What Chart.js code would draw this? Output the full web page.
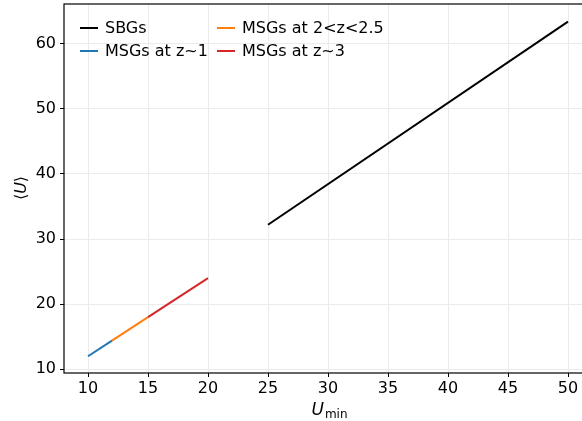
<!DOCTYPE html>
<html><head><meta charset="utf-8">
<script src="https://cdn.jsdelivr.net/npm/chart.js@4"></script>
<style>html,body{margin:0;padding:0;overflow:hidden;background:#fff;width:582px;height:421px}#wrap{width:600px;height:421px}</style>
</head><body><div id="wrap"><canvas id="c" width="600" height="421"></canvas></div>
<script>
const xTicks = [10, 15, 20, 25, 30, 35, 40, 45, 50];
const yTicks = [10, 20, 30, 40, 50, 60];
const seriesNames = ["SBGs", "MSGs at z~1", "MSGs at 2<z<2.5", "MSGs at z~3"];
const sbgUmin = [25, 50];
const sbgMeanU = [32.2, 63.4];
const z1Umin = [10, 12];
const z1MeanU = [12.0, 14.4];
const z2Umin = [12, 15];
const z2MeanU = [14.4, 18.0];
const z3Umin = [15, 20];
const z3MeanU = [18.0, 24.0];
const colors = ["#000000", "#1f77b4", "#ff7f0e", "#d62728"];

const pts = (xs, ys) => xs.map((x, i) => ({x: x, y: ys[i]}));
const series = [pts(sbgUmin, sbgMeanU), pts(z1Umin, z1MeanU), pts(z2Umin, z2MeanU), pts(z3Umin, z3MeanU)];
const FONT = "DejaVu Sans";

const framePlugin = {
  id: 'frame',
  afterDraw(chart) {
    const ctx = chart.ctx, a = chart.chartArea;
    ctx.save();
    ctx.strokeStyle = '#000'; ctx.lineWidth = 1.2;
    ctx.strokeRect(a.left, a.top, a.right - a.left, a.bottom - a.top);
    // legend (two columns)
    ctx.font = '16px "' + FONT + '"';
    ctx.textBaseline = 'middle';
    const pos = [[80, 28], [80, 51], [217, 28], [217, 51]];
    chart.data.datasets.forEach((ds, i) => {
      const [lx, ly] = pos[i];
      ctx.strokeStyle = ds.borderColor; ctx.lineWidth = 2;
      ctx.beginPath(); ctx.moveTo(lx, ly); ctx.lineTo(lx + 18, ly); ctx.stroke();
      ctx.fillStyle = '#000';
      ctx.fillText(ds.label, lx + 25, ly + 1);
    });
    // x label
    ctx.textBaseline = 'alphabetic';
    ctx.font = 'italic 17px "' + FONT + '"';
    const uW = ctx.measureText('U').width;
    ctx.font = '12px "' + FONT + '"';
    const mW = ctx.measureText('min').width;
    let xs = 329 - (uW + mW) / 2;
    ctx.font = 'italic 17px "' + FONT + '"';
    ctx.fillText('U', xs, 415);
    ctx.font = '12px "' + FONT + '"';
    ctx.fillText('min', xs + uW + 1, 418);
    // y label
    ctx.translate(26, 188);
    ctx.rotate(-Math.PI / 2);
    ctx.font = '16px "' + FONT + '"';
    const lw = ctx.measureText('⟨').width;
    ctx.font = 'italic 16px "' + FONT + '"';
    const uw2 = ctx.measureText('U').width;
    const tot = lw * 2 + uw2;
    let px = -tot / 2;
    ctx.font = '16px "' + FONT + '"';
    ctx.fillText('⟨', px, 0);
    ctx.font = 'italic 16px "' + FONT + '"';
    ctx.fillText('U', px + lw, 0);
    ctx.font = '16px "' + FONT + '"';
    ctx.fillText('⟩', px + lw + uw2, 0);
    ctx.restore();
  }
};

new Chart(document.getElementById('c'), {
  type: 'line',
  data: {
    datasets: series.map((d, i) => ({
      label: seriesNames[i], data: d, borderColor: colors[i], backgroundColor: colors[i],
      borderWidth: 2, pointRadius: 0, fill: false, tension: 0
    }))
  },
  options: {
    responsive: false, animation: false, maintainAspectRatio: false,
    layout: {padding: {left: 0, right: 8, top: 4, bottom: 0}},
    plugins: {legend: {display: false}, tooltip: {enabled: false}},
    scales: {
      x: {
        type: 'linear', min: 8, max: 52,
        afterBuildTicks: s => { s.ticks = xTicks.map(v => ({value: v})); },
        afterFit: s => { s.height = 48; s.paddingLeft = 0; s.paddingRight = 0; },
        grid: {color: '#ebebeb', tickColor: '#000', tickLength: 4, lineWidth: 1},
        border: {display: false},
        ticks: {color: '#000', font: {family: FONT, size: 16}, padding: 2, maxRotation: 0}
      },
      y: {
        type: 'linear', min: 9.43, max: 66.1,
        afterBuildTicks: s => { s.ticks = yTicks.map(v => ({value: v})); },
        afterFit: s => { s.width = 64; s.paddingTop = 0; s.paddingBottom = 0; },
        grid: {color: '#ebebeb', tickColor: '#000', tickLength: 4, lineWidth: 1},
        border: {display: false},
        ticks: {color: '#000', font: {family: FONT, size: 16}, padding: 4}
      }
    }
  },
  plugins: [framePlugin]
});
</script>
</body></html>
